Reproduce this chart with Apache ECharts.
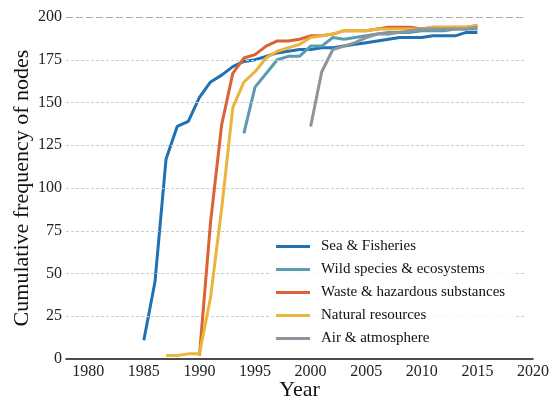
<!DOCTYPE html>
<html>
<head>
<meta charset="utf-8">
<script src="https://cdn.jsdelivr.net/npm/echarts@6/dist/echarts.min.js"></script>
<style>html,body{margin:0;padding:0;background:#fff;}#chart{width:555px;height:401px;}</style>
</head>
<body>
<div id="chart"></div>
<script>
const seriesNames = ['Sea & Fisheries', 'Wild species & ecosystems', 'Waste & hazardous substances', 'Natural resources', 'Air & atmosphere'];
const seaStart = 1985;
const seaValues = [11,45,117,136,139,153,162,166,171,174,175,177,179,180,181,181,182,182,183,184,185,186,187,188,188,188,189,189,189,191,191];
const wildStart = 1994;
const wildValues = [132,159,167,175,177,177,183,183,188,187,188,189,190,191,191,191,192,192,192,193,193,193];
const wasteStart = 1990;
const wasteValues = [2,80,137,167,176,178,183,186,186,187,189,189,190,192,192,192,193,194,194,194,193,194,194,194,194,195];
const naturalStart = 1987;
const naturalValues = [2,2,3,3,36,88,147,162,168,176,180,182,184,188,189,190,192,192,192,193,193,193,193,193,194,194,194,194,195];
const airStart = 2000;
const airValues = [136,168,181,183,185,188,190,190,191,192,193,193,193,193,193,194];
const yTicks = [0,25,50,75,100,125,150,175,200];
const xTickLabels = [1980,1985,1990,1995,2000,2005,2010,2015,2020];

const colors = ['#2070b4', '#5a9bb0', '#dc6235', '#ebb53c', '#8e949c'];
const FONT = 'Liberation Serif';

function toPairs(start, vals) { return vals.map((v, i) => [start + i, v]); }
const allData = [
  toPairs(seaStart, seaValues),
  toPairs(wildStart, wildValues),
  toPairs(wasteStart, wasteValues),
  toPairs(naturalStart, naturalValues),
  toPairs(airStart, airValues)
];

const gridLineData = yTicks.filter(v => v > 0).map(v => [
  { coord: [1978, v], lineStyle: v === 200 ? { color: '#aaaaaa', type: [7, 3], width: 1 } : { color: '#cccccc', type: [3, 2], width: 1 } },
  { coord: [2019.2, v] }
]);

const series = seriesNames.map((name, i) => ({
  name: name,
  type: 'line',
  data: allData[i],
  showSymbol: false,
  symbol: 'none',
  lineStyle: { width: 3, color: colors[i] },
  itemStyle: { color: colors[i] },
  z: 3 + i,
  animation: false
}));
series.unshift({
  name: 'grid',
  type: 'line',
  data: [],
  silent: true,
  z: 1,
  markLine: {
    silent: true,
    symbol: 'none',
    label: { show: false },
    animation: false,
    data: gridLineData
  }
});

const chart = echarts.init(document.getElementById('chart'), null, { renderer: 'canvas' });
chart.setOption({
  animation: false,
  backgroundColor: '#ffffff',
  grid: { left: 66, right: 22, top: 17, bottom: 42, containLabel: false, outerBoundsMode: 'none' },
  legend: {
    data: seriesNames.map((n, i) => ({ name: n, icon: 'rect', itemStyle: { color: colors[i] } })),
    orient: 'vertical',
    left: 270,
    top: 234,
    itemWidth: 34,
    itemHeight: 3,
    itemGap: 8,
    padding: [5, 10, 5, 6],
    backgroundColor: 'rgba(255,255,255,0.8)',
    textStyle: { fontFamily: FONT, fontSize: 15, color: '#111', padding: [0, 0, 0, 6] },
    z: 10
  },
  xAxis: {
    type: 'value',
    min: 1978,
    max: 2020,
    splitNumber: 8,
    name: 'Year',
    nameLocation: 'middle',
    nameGap: 20,
    nameMoveOverlap: false,
    nameTextStyle: { fontFamily: FONT, fontSize: 22, color: '#111' },
    axisLine: { show: true, onZero: false, lineStyle: { color: '#111', width: 1.5 } },
    axisTick: { show: false },
    splitLine: { show: false },
    axisLabel: {
      fontFamily: FONT, fontSize: 16, color: '#222', margin: 5,
      formatter: v => (xTickLabels.indexOf(v) >= 0 ? String(v) : '')
    }
  },
  yAxis: {
    type: 'value',
    min: 0,
    max: 200,
    interval: 25,
    name: 'Cumulative frequency of nodes',
    nameLocation: 'middle',
    nameGap: 33,
    nameMoveOverlap: false,
    nameTextStyle: { fontFamily: FONT, fontSize: 22, color: '#111' },
    axisLine: { show: false },
    axisTick: { show: false },
    splitLine: { show: false },
    axisLabel: { fontFamily: FONT, fontSize: 16, color: '#222', margin: 4 }
  },
  series: series
});
</script>
</body>
</html>
